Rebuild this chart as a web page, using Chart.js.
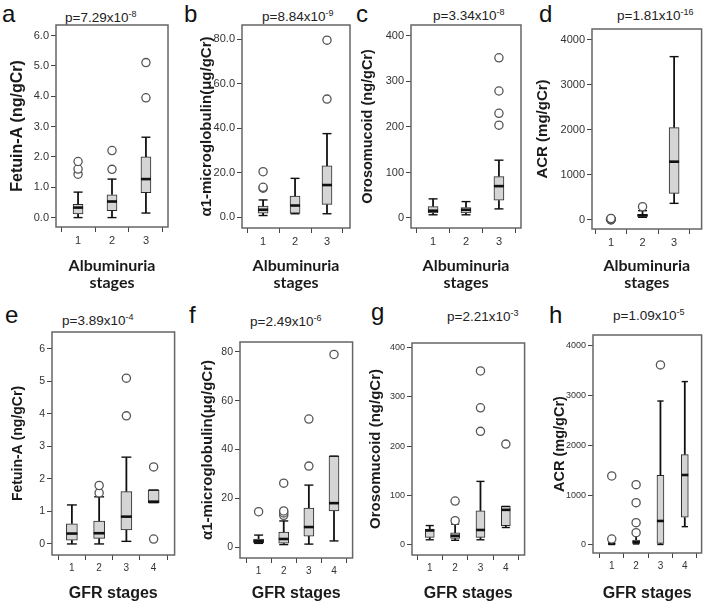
<!DOCTYPE html>
<html>
<head>
<meta charset="utf-8">
<script src="https://cdn.jsdelivr.net/npm/chart.js@4.4.0/dist/chart.umd.min.js"></script>
<style>
  body { margin: 0; background: #fff; width: 707px; height: 608px; position: relative; overflow: hidden;
         font-family: "Liberation Sans", Arial, sans-serif; }
  .cell { position: absolute; }
  .lab { position: absolute; font-size: 24px; line-height: 24px; color: #111; }
  .pv { position: absolute; font-size: 13.5px; line-height: 14px; color: #222; white-space: nowrap; }
  .pv sup { font-size: 9px; vertical-align: 5px; }
</style>
</head>
<body>

<div class="lab" style="left:2px;top:2px">a</div>
<div class="lab" style="left:184px;top:2px">b</div>
<div class="lab" style="left:356px;top:2px">c</div>
<div class="lab" style="left:539px;top:2px">d</div>
<div class="lab" style="left:5px;top:303px">e</div>
<div class="lab" style="left:189px;top:303px">f</div>
<div class="lab" style="left:371px;top:300px">g</div>
<div class="lab" style="left:549px;top:303px">h</div>

<div class="pv" style="left:65px;top:7px">p=7.29x10<sup>-8</sup></div>
<div class="pv" style="left:262px;top:6px">p=8.84x10<sup>-9</sup></div>
<div class="pv" style="left:433px;top:5px">p=3.34x10<sup>-8</sup></div>
<div class="pv" style="left:617px;top:5px">p=1.81x10<sup>-16</sup></div>
<div class="pv" style="left:62px;top:310px">p=3.89x10<sup>-4</sup></div>
<div class="pv" style="left:250px;top:311px">p=2.49x10<sup>-6</sup></div>
<div class="pv" style="left:447px;top:306px">p=2.21x10<sup>-3</sup></div>
<div class="pv" style="left:613px;top:305px">p=1.09x10<sup>-5</sup></div>

<div class="cell" style="left:0px;top:0px;width:180px;height:300px"><canvas id="pa"></canvas></div>
<div class="cell" style="left:180px;top:0px;width:178px;height:300px"><canvas id="pb"></canvas></div>
<div class="cell" style="left:358px;top:0px;width:172px;height:300px"><canvas id="pc"></canvas></div>
<div class="cell" style="left:530px;top:0px;width:177px;height:300px"><canvas id="pd"></canvas></div>
<div class="cell" style="left:0px;top:300px;width:180px;height:308px"><canvas id="pe"></canvas></div>
<div class="cell" style="left:180px;top:300px;width:178px;height:308px"><canvas id="pf"></canvas></div>
<div class="cell" style="left:358px;top:300px;width:172px;height:308px"><canvas id="pg"></canvas></div>
<div class="cell" style="left:530px;top:300px;width:177px;height:308px"><canvas id="ph"></canvas></div>

<script>
const albStages = ['1', '2', '3'];
const gfrStages = ['1', '2', '3', '4'];

// each box: [min, q1, median, q3, max]; outliers listed per stage
const fetuinAlbBoxes = [[0.0, 0.12, 0.33, 0.44, 0.84], [0.0, 0.23, 0.53, 0.75, 1.27], [0.15, 0.82, 1.27, 2.0, 2.65]];
const fetuinAlbOut = [[1.43, 1.6, 1.85], [1.59, 2.21], [3.95, 5.11]];
const a1mAlbBoxes = [[0.7, 1.8, 3.3, 4.9, 7.7], [1.5, 1.8, 5.2, 9.4, 17.4], [1.5, 5.7, 14.4, 23.0, 37.5]];
const a1mAlbOut = [[13.0, 13.4, 20.4], [], [53.0, 79.5]];
const orosoAlbBoxes = [[7, 11, 16, 25, 42], [7, 11, 18, 23, 36], [20, 39, 70, 91, 127]];
const orosoAlbOut = [[], [], [204, 230, 279, 352]];
const acrAlbBoxes = [[0, 3, 8, 14, 25], [60, 80, 105, 120, 207], [370, 593, 1296, 2052, 3630]];
const acrAlbOut = [[4, 8, 12, 16, 20, 24, 28, 32], [296], []];

const fetuinGfrBoxes = [[0.0, 0.12, 0.32, 0.62, 1.2], [0.0, 0.17, 0.33, 0.7, 1.45], [0.08, 0.43, 0.84, 1.61, 2.67], [1.27, 1.27, 1.3, 1.66, 1.66]];
const fetuinGfrOut = [[], [1.57, 1.8], [3.94, 5.1], [0.15, 2.37]];
const a1mGfrBoxes = [[1.5, 1.8, 2.4, 3.3, 4.9], [1.0, 1.6, 3.3, 6.1, 10.7], [1.2, 4.5, 8.2, 16.0, 25.4], [2.5, 14.8, 18.0, 37.3, 37.3]];
const a1mGfrOut = [[14.5], [13.0, 14.0, 14.8, 26.2], [33.2, 52.5], [79.0]];
const orosoGfrBoxes = [[9, 14, 28, 31, 38], [8, 12, 17, 23, 41], [9, 14, 29, 68, 128], [34, 38, 70, 77, 77]];
const orosoGfrOut = [[], [48, 88], [230, 278, 353], [204]];
const acrGfrBoxes = [[10, 15, 25, 40, 50], [20, 30, 55, 100, 200], [10, 33, 482, 1400, 2890], [368, 556, 1405, 1814, 3280]];
const acrGfrOut = [[120, 1385], [247, 448, 850, 1211], [3615], []];

const fetuinTicks = [0, 1, 2, 3, 4, 5, 6];
const a1mTicks = [0, 20, 40, 60, 80];
const orosoTicks = [0, 100, 200, 300, 400];
const acrTicks = [0, 1000, 2000, 3000, 4000];

// whiskers, caps and medians drawn through the chart's scales
const boxPlugin = {
  id: 'boxWhiskers',
  afterDatasetDraw(chart, args, opts) {
    if (args.index !== 0) return;
    const { ctx, scales: { x, y } } = chart;
    const line = (x1, y1, x2, y2) => { ctx.beginPath(); ctx.moveTo(x1, y1); ctx.lineTo(x2, y2); ctx.stroke(); };
    ctx.save();
    ctx.strokeStyle = '#111';
    opts.boxes.forEach((b, i) => {
      const px = x.getPixelForValue(i + 1);
      const [mn, q1, md, q3, mx] = b.map(v => y.getPixelForValue(v));
      const cap = opts.width * 0.45;
      ctx.lineWidth = 1.8;
      if (mn - q1 > 0.5) line(px, q1, px, mn);
      if (q3 - mx > 0.5) line(px, q3, px, mx);
      ctx.lineWidth = 1.4;
      line(px - cap, mn, px + cap, mn);
      line(px - cap, mx, px + cap, mx);
      ctx.lineWidth = 2.6;
      line(px - opts.width / 2, md, px + opts.width / 2, md);
    });
    ctx.restore();
  },
  afterDraw(chart) {
    const { ctx, chartArea: a } = chart;
    ctx.save();
    ctx.strokeStyle = '#666';
    ctx.lineWidth = 1.5;
    ctx.strokeRect(a.left, a.top, a.width, a.height);
    ctx.restore();
  }
};

function makePanel(id, p) {
  const el = document.getElementById(id);
  const boxData = p.boxes.map((b, i) => ({ x: i + 1, y: [b[1], b[3]] }));
  const outData = [];
  p.outliers.forEach((list, i) => list.forEach(v => outData.push({ x: i + 1, y: v })));

  new Chart(el, {
    type: 'bar',
    data: {
      datasets: [
        { type: 'bar', data: boxData, order: 2, backgroundColor: '#d5d5d5', borderColor: '#2a2a2a',
          borderWidth: 1, borderSkipped: false, barThickness: p.boxWidth },
        { type: 'scatter', data: outData, order: 1, pointRadius: 4.1, pointBorderWidth: 1.3,
          pointBackgroundColor: '#fff', pointBorderColor: '#555' }
      ]
    },
    options: {
      responsive: true,
      maintainAspectRatio: false,
      animation: false,
      events: [],
      layout: { padding: { left: 0, top: p.frame[2] - p.cell[1], right: p.cell[0] + p.cell[2] - p.frame[1], bottom: 0 } },
      plugins: {
        legend: { display: false },
        tooltip: { enabled: false },
        boxWhiskers: { boxes: p.boxes, width: p.boxWidth }
      },
      scales: {
        x: {
          type: 'linear', offset: false, min: p.xRange[0], max: p.xRange[1],
          afterBuildTicks: s => { s.ticks = p.stages.map((_, i) => ({ value: i + 1 })); },
          afterFit: s => { s.height = p.cell[1] + p.cell[3] - p.frame[3]; },
          ticks: { callback: v => p.stages[v - 1], color: '#333', padding: 2, maxRotation: 0,
                   font: { family: 'Liberation Sans', size: p.tickSize } },
          grid: { display: true, drawOnChartArea: false, drawTicks: true, tickLength: 5, color: '#444' },
          border: { display: false },
          title: { display: true, text: p.xTitle, color: '#1a1a1a', padding: { top: 0, bottom: p.xTitlePad },
                   font: p.xTitleFont }
        },
        y: {
          type: 'linear', min: p.yRange[0], max: p.yRange[1],
          afterBuildTicks: s => { s.ticks = p.yTicks.map(v => ({ value: v })); },
          afterFit: s => { s.width = p.frame[0] - p.cell[0]; },
          ticks: { callback: v => v.toFixed(p.decimals), color: '#333', padding: 2,
                   font: { family: 'Liberation Sans', size: p.yTickSize } },
          grid: { display: true, drawOnChartArea: false, drawTicks: true, tickLength: 5, color: '#444' },
          border: { display: false },
          title: { display: true, text: p.yTitle, color: '#1a1a1a',
                   padding: { top: p.yTitleX - p.cell[0] - p.yTitleSize * 0.6, bottom: 0 },
                   font: { family: 'Liberation Sans', weight: 'bold', size: p.yTitleSize, lineHeight: 1.2 } }
        }
      }
    },
    plugins: [boxPlugin]
  });
}

const albTitle = ['Albuminuria', 'stages'];
const albFont = { family: 'Lato', weight: 'bold', size: 16, lineHeight: 1.1 };
const gfrFont = { family: 'Liberation Sans', weight: 'bold', size: 16, lineHeight: 1.2 };

makePanel('pa', { cell: [0, 0, 180, 300], frame: [56, 168, 25, 227], xRange: [0.35, 3.65], yRange: [-0.31, 6.35],
  stages: albStages, boxes: fetuinAlbBoxes, outliers: fetuinAlbOut, yTicks: fetuinTicks, decimals: 1,
  boxWidth: 10, tickSize: 11, yTickSize: 11, yTitle: 'Fetuin-A (ng/gCr)', yTitleSize: 16, yTitleX: 18,
  xTitle: albTitle, xTitleFont: albFont, xTitlePad: 8 });
makePanel('pb', { cell: [180, 0, 178, 300], frame: [242, 350, 25, 228], xRange: [0.34, 3.72], yRange: [-4.9, 86.3],
  stages: albStages, boxes: a1mAlbBoxes, outliers: a1mAlbOut, yTicks: a1mTicks, decimals: 1,
  boxWidth: 10, tickSize: 11, yTickSize: 11, yTitle: 'α1-microglobulin(μg/gCr)', yTitleSize: 15, yTitleX: 207,
  xTitle: albTitle, xTitleFont: albFont, xTitlePad: 8 });
makePanel('pc', { cell: [358, 0, 172, 300], frame: [411, 521, 25, 228], xRange: [0.33, 3.67], yRange: [-22, 424],
  stages: albStages, boxes: orosoAlbBoxes, outliers: orosoAlbOut, yTicks: orosoTicks, decimals: 0,
  boxWidth: 10, tickSize: 11, yTickSize: 11, yTitle: 'Orosomucoid (ng/gCr)', yTitleSize: 14.5, yTitleX: 368,
  xTitle: albTitle, xTitleFont: albFont, xTitlePad: 8 });
makePanel('pd', { cell: [530, 0, 177, 300], frame: [592, 702, 29, 229], xRange: [0.4, 3.87], yRange: [-200, 4244],
  stages: albStages, boxes: acrAlbBoxes, outliers: acrAlbOut, yTicks: acrTicks, decimals: 0,
  boxWidth: 10, tickSize: 11, yTickSize: 11, yTitle: 'ACR (mg/gCr)', yTitleSize: 15, yTitleX: 543,
  xTitle: albTitle, xTitleFont: albFont, xTitlePad: 8 });

makePanel('pe', { cell: [0, 300, 180, 308], frame: [52, 175, 332, 555], xRange: [0.27, 4.77], yRange: [-0.34, 6.52],
  stages: gfrStages, boxes: fetuinGfrBoxes, outliers: fetuinGfrOut, yTicks: fetuinTicks, decimals: 0,
  boxWidth: 11, tickSize: 10, yTickSize: 10.5, yTitle: 'Fetuin-A (ng/gCr)', yTitleSize: 14, yTitleX: 18,
  xTitle: 'GFR stages', xTitleFont: gfrFont, xTitlePad: 5 });
makePanel('pf', { cell: [180, 300, 178, 308], frame: [240, 355, 342, 558], xRange: [0.26, 4.74], yRange: [-4.5, 84.1],
  stages: gfrStages, boxes: a1mGfrBoxes, outliers: a1mGfrOut, yTicks: a1mTicks, decimals: 0,
  boxWidth: 10, tickSize: 10, yTickSize: 10.5, yTitle: 'α1-microglobulin(μg/gCr)', yTitleSize: 15, yTitleX: 208,
  xTitle: 'GFR stages', xTitleFont: gfrFont, xTitlePad: 5 });
makePanel('pg', { cell: [358, 300, 172, 308], frame: [412, 526, 343, 555], xRange: [0.3, 4.74], yRange: [-22, 410],
  stages: gfrStages, boxes: orosoGfrBoxes, outliers: orosoGfrOut, yTicks: orosoTicks, decimals: 0,
  boxWidth: 9, tickSize: 10, yTickSize: 9, yTitle: 'Orosomucoid (ng/gCr)', yTitleSize: 15, yTitleX: 376,
  xTitle: 'GFR stages', xTitleFont: gfrFont, xTitlePad: 5 });
makePanel('ph', { cell: [530, 300, 177, 308], frame: [593, 703, 335, 553], xRange: [0.23, 4.69], yRange: [-161, 4215],
  stages: gfrStages, boxes: acrGfrBoxes, outliers: acrGfrOut, yTicks: acrTicks, decimals: 0,
  boxWidth: 7, tickSize: 10, yTickSize: 9, yTitle: 'ACR (mg/gCr)', yTitleSize: 14.5, yTitleX: 560,
  xTitle: 'GFR stages', xTitleFont: gfrFont, xTitlePad: 5 });
</script>
</body>
</html>
